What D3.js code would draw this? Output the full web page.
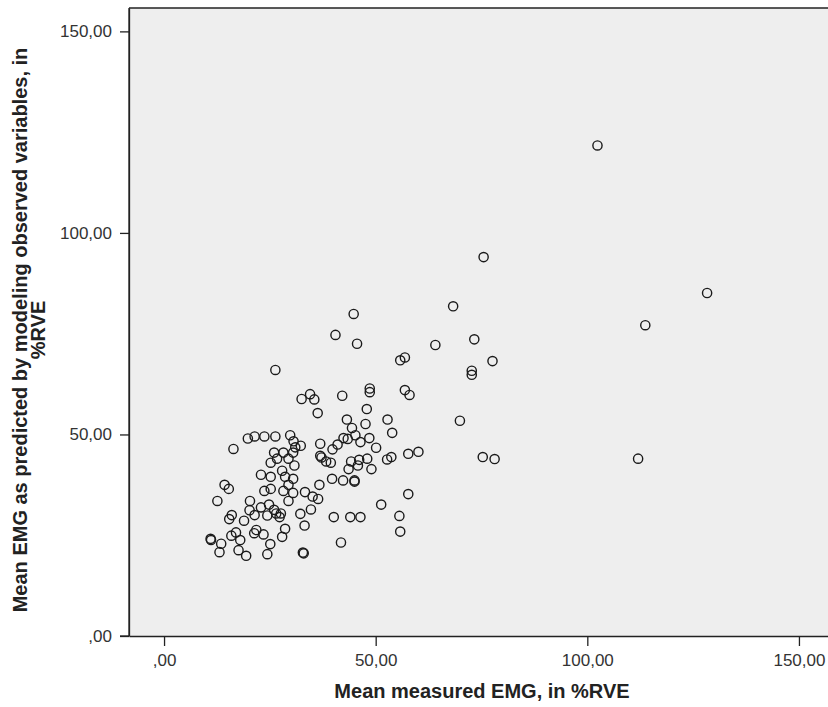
<!DOCTYPE html>
<html><head><meta charset="utf-8">
<script src="https://cdn.jsdelivr.net/npm/d3@7/dist/d3.min.js"></script>
<style>body{margin:0;background:#fff}svg{display:block}</style>
</head><body>
<svg id="c" width="828" height="707"></svg>
<script>
// Measured EMG (%RVE)
const measured = [
102.4,128.3,113.7,112.0,75.5,68.3,73.3,77.6,72.7,72.7,69.9,75.3,78.1,64.1,55.8,56.9,44.8,40.5,45.6,48.6,48.6,56.9,58.0,34.5,35.5,32.5,42.1,36.3,47.9,47.6,43.2,44.4,52.8,53.9,42.4,43.4,45.2,46.4,48.5,50.1,36.9,41.0,39.8,32.3,36.9,37.2,38.3,39.4,44.2,46.1,48.0,45.8,43.6,49.0,52.7,53.7,57.7,60.1,39.7,42.3,45.0,45.0,36.7,33.3,35.1,36.4,34.7,57.7,51.3,55.6,40.1,44.0,46.4,32.2,
12.6,20.3,29.4,22.9,24.8,20.2,21.4,24.4,26.0,26.5,27.6,27.3,16.0,15.4,18.9,33.2,55.8,28.6,27.9,21.8,21.3,23.5,17.0,15.9,11.0,11.1,13.5,18.0,25.1,41.8,13.1,17.6,19.4,24.4,32.8,33.0,
26.3,14.3,15.3,16.4,19.8,21.4,23.7,26.3,29.8,30.6,31.0,26.0,28.2,30.5,25.2,26.7,29.4,30.8,22.9,25.2,27.9,28.6,30.5,23.7,25.2,28.2,29.4,30.5
];
// Predicted EMG (%RVE)
const predicted = [
121.7,85.1,77.1,44.0,94.0,81.8,73.6,68.2,65.8,64.8,53.4,44.4,43.9,72.2,68.4,69.1,79.9,74.7,72.5,61.4,60.5,61.0,59.8,60.0,58.7,58.8,59.6,55.3,56.3,52.6,53.7,51.6,53.7,50.4,49.1,48.9,49.8,48.1,49.1,46.7,47.7,47.5,46.3,47.2,44.7,44.3,43.3,43.0,43.3,43.7,44.0,42.3,41.4,41.4,43.8,44.4,45.2,45.7,39.0,38.6,38.6,38.3,37.5,35.7,34.6,34.0,31.4,35.2,32.6,29.8,29.5,29.5,29.5,30.3,
33.5,33.5,33.5,31.9,32.6,31.2,30.0,29.9,31.3,30.4,30.4,29.5,30.0,29.0,28.6,27.4,25.9,26.6,24.6,26.3,25.5,25.2,25.7,24.9,24.1,23.8,22.9,23.8,22.8,23.2,20.8,21.3,19.9,20.3,20.7,20.5,
66.0,37.5,36.5,46.4,49.0,49.5,49.5,49.5,49.8,48.3,46.8,45.5,45.5,45.5,43.0,44.0,44.0,42.3,40.0,39.5,41.0,39.5,39.0,36.0,36.5,36.0,37.5,35.5
];
const xTicks = [0,50,100,150];
const yTicks = [0,50,100,150];
const xTitle = "Mean measured EMG, in %RVE";
const yTitle = ["Mean EMG as predicted by modeling observed variables, in","%RVE"];

const fmt = v => v === 0 ? ",00" : v.toFixed(2).replace(".", ",");
const svg = d3.select("#c");
const L = 129, T = 8, R = 829, B = 636;
const x = d3.scaleLinear().domain([-8.28, 157.1]).range([L, R]);
const y = d3.scaleLinear().domain([0, 155.8]).range([B, T]);

svg.append("rect").attr("x", L).attr("y", T).attr("width", R - L).attr("height", B - T)
  .attr("fill", "#eeeeee");

const ff = "'Liberation Sans', Arial, sans-serif";
const gx = svg.append("g").attr("transform", `translate(0,${B})`)
  .call(d3.axisBottom(x).tickValues(xTicks).tickFormat(fmt).tickSize(10).tickSizeOuter(0).tickPadding(8));
const gy = svg.append("g").attr("transform", `translate(${L},0)`)
  .call(d3.axisLeft(y).tickValues(yTicks).tickFormat(fmt).tickSize(9).tickSizeOuter(0).tickPadding(8));
[gx, gy].forEach(g => {
  g.select(".domain").attr("stroke", "#222").attr("stroke-width", 1.3);
  g.selectAll(".tick line").attr("stroke", "#222").attr("stroke-width", 1.3);
  g.selectAll(".tick text").attr("font-family", ff).attr("font-size", 17).attr("fill", "#333");
});
svg.append("line").attr("x1", L - 9).attr("x2", L).attr("y1", B).attr("y2", B)
  .attr("stroke", "#222").attr("stroke-width", 1.3);
svg.append("line").attr("x1", L).attr("x2", L).attr("y1", T).attr("y2", B)
  .attr("stroke", "#222").attr("stroke-width", 1.3);
svg.append("line").attr("x1", L).attr("x2", R).attr("y1", T).attr("y2", T)
  .attr("stroke", "#222").attr("stroke-width", 1.3);

const pts = measured.map((m, i) => ({m, p: predicted[i]}));
svg.append("g").selectAll("circle").data(pts).join("circle")
  .attr("cx", d => x(d.m)).attr("cy", d => y(d.p)).attr("r", 4.6)
  .attr("fill", "none").attr("stroke", "#1a1a1a").attr("stroke-width", 1.4);

svg.append("text").attr("x", 482).attr("y", 698).attr("text-anchor", "middle")
  .attr("font-family", ff).attr("font-weight", "bold").attr("font-size", 20).attr("fill", "#222")
  .text(xTitle);
const yt = svg.append("text").attr("transform", `translate(27,${(T + B) / 2 + 8}) rotate(-90)`)
  .attr("text-anchor", "middle").attr("font-family", ff).attr("font-weight", "bold")
  .attr("font-size", 20).attr("fill", "#222");
yTitle.forEach((t, i) => yt.append("tspan").attr("x", 0).attr("dy", i === 0 ? 0 : 18).text(t));
</script>
</body></html>
